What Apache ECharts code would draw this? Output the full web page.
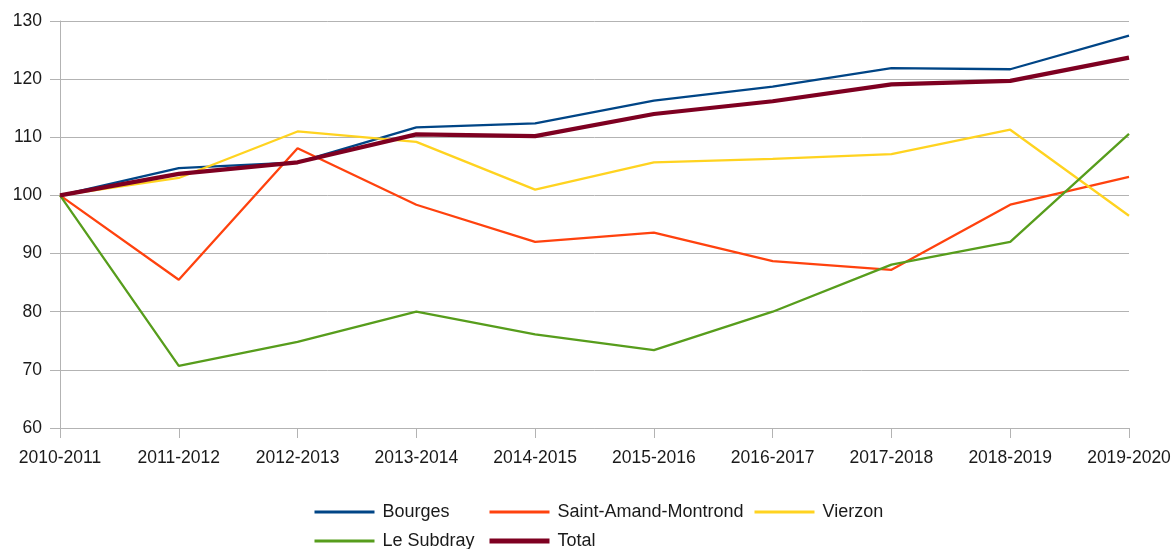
<!DOCTYPE html>
<html>
<head>
<meta charset="utf-8">
<script src="https://cdn.jsdelivr.net/npm/echarts@6/dist/echarts.min.js"></script>
<style>
  html, body { margin: 0; padding: 0; background: #fff; }
  #chart { width: 1175px; height: 549px; }
</style>
</head>
<body>
<div id="chart"></div>
<script>
const years = ["2010-2011", "2011-2012", "2012-2013", "2013-2014", "2014-2015",
    "2015-2016", "2016-2017", "2017-2018", "2018-2019", "2019-2020"];

const bourges = [100, 104.7, 105.7, 111.7, 112.4, 116.3, 118.7, 121.9, 121.7, 127.5];
const saintAmand = [100, 85.5, 108.1, 98.4, 92.0, 93.6, 88.7, 87.2, 98.4, 103.2];
const vierzon = [100, 103.0, 111.0, 109.2, 101.0, 105.7, 106.3, 107.1, 111.3, 96.5];
const leSubdray = [100, 70.7, 74.8, 80.0, 76.1, 73.4, 80.0, 88.1, 92.0, 110.6];
const total = [100, 103.7, 105.7, 110.5, 110.2, 114.0, 116.2, 119.1, 119.7, 123.7];

const font = "Liberation Sans";
const textColor = "#1a1a1a";
const gridColor = "#b3b3b3";

function line(name, data, color, width) {
    return {
        name: name,
        type: "line",
        data: data,
        symbol: "none",
        showSymbol: false,
        lineStyle: { color: color, width: width },
        itemStyle: { color: color },
        animation: false,
    };
}

// one legend per column, like the original layout
function legendCol(items, left) {
    return {
        data: items.map(function (n) {
            return { name: n, lineStyle: { width: n === "Total" ? 5 : 3 } };
        }),
        orient: "vertical",
        left: left,
        top: 503,
        height: 80,
        padding: 0,
        itemWidth: 60,
        itemHeight: 16,
        itemGap: 11,
        itemStyle: { opacity: 0 },
        textStyle: { fontFamily: font, fontSize: 18, color: textColor, lineHeight: 16, padding: [0, 0, 0, 3] },
    };
}

const chart = echarts.init(document.getElementById("chart"));
chart.setOption({
    backgroundColor: "#fff",
    grid: { left: 60, right: 46, top: 21, bottom: 121 },
    legend: [
        legendCol(["Bourges", "Le Subdray"], 313),
        legendCol(["Saint-Amand-Montrond", "Total"], 487),
        legendCol(["Vierzon"], 753),
    ],
    xAxis: {
        type: "category",
        data: years,
        boundaryGap: false,
        axisLine: { lineStyle: { color: gridColor } },
        axisTick: { show: true, length: 10, lineStyle: { color: gridColor } },
        axisLabel: { fontFamily: font, fontSize: 17.5, color: textColor, margin: 21, interval: 0 },
        splitLine: { show: false },
    },
    yAxis: {
        type: "value",
        min: 60,
        max: 130,
        interval: 10,
        axisLine: { show: true, lineStyle: { color: gridColor } },
        axisTick: { show: true, length: 10, lineStyle: { color: gridColor } },
        axisLabel: { fontFamily: font, fontSize: 17.5, color: textColor, margin: 18 },
        splitLine: { lineStyle: { color: gridColor } },
    },
    series: [
        line("Bourges", bourges, "#004586", 2.3),
        line("Saint-Amand-Montrond", saintAmand, "#ff420e", 2.3),
        line("Vierzon", vierzon, "#ffd320", 2.3),
        line("Le Subdray", leSubdray, "#579d1c", 2.3),
        line("Total", total, "#7e0021", 4.2),
    ],
});
</script>
</body>
</html>
